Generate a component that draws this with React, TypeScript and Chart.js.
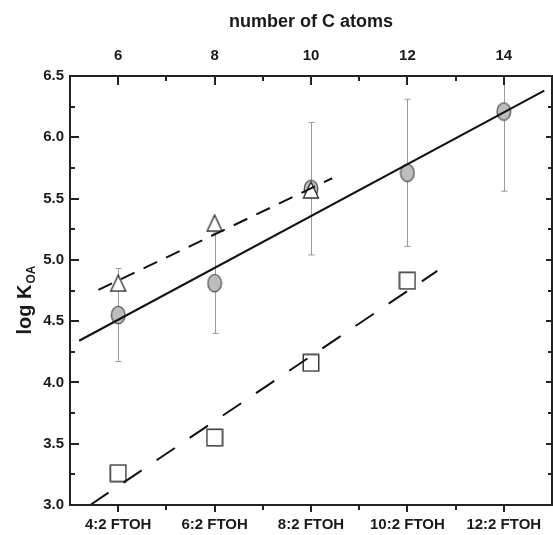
import React, { useEffect, useRef } from 'react';
import { Chart, registerables } from 'chart.js';

Chart.register(...registerables);

// ---- data ----
const categories = ['4:2 FTOH', '6:2 FTOH', '8:2 FTOH', '10:2 FTOH', '12:2 FTOH'];
const carbonAtoms = [6, 8, 10, 12, 14];
const minorCarbonTicks = [7, 9, 11, 13];
const yTicks = [3.0, 3.5, 4.0, 4.5, 5.0, 5.5, 6.0, 6.5];
const yMinorTicks = [3.25, 3.75, 4.25, 4.75, 5.25, 5.75, 6.25];

const circleLogKoa = [4.55, 4.81, 5.58, 5.71, 6.21];
const circleErr = [0.38, 0.41, 0.54, 0.6, 0.65];
const triangleCarbons = [6, 8, 10];
const triangleLogKoa = [4.81, 5.3, 5.57];
const squareCarbons = [6, 8, 10, 12];
const squareLogKoa = [3.26, 3.55, 4.16, 4.83];

const solidFitX = [5.19, 14.84];
const solidFitY = [4.34, 6.38];
const triangleFitX = [5.59, 10.44];
const triangleFitY = [4.755, 5.666];
const squareFitX = [5.42, 12.62];
const squareFitY = [3.0, 4.91];

const FONT = '"Liberation Sans", Arial, sans-serif';
const TEXT = '#1a1a1a';

function makeEllipse() {
  const c = document.createElement('canvas');
  c.width = 16; c.height = 20;
  const g = c.getContext('2d')!;
  g.beginPath();
  g.ellipse(8, 10, 6.8, 8.6, 0, 0, Math.PI * 2);
  g.fillStyle = '#bdbdbd';
  g.fill();
  g.lineWidth = 1.3;
  g.strokeStyle = '#555';
  g.stroke();
  return c;
}
function makeTriangle() {
  const c = document.createElement('canvas');
  c.width = 18; c.height = 18;
  const g = c.getContext('2d')!;
  g.beginPath();
  g.moveTo(9, 1);
  g.lineTo(1.5, 17);
  g.lineTo(16.5, 17);
  g.closePath();
  g.fillStyle = '#fff';
  g.fill();
  g.lineWidth = 1.4;
  g.strokeStyle = '#333';
  g.stroke();
  return c;
}
function makeSquare() {
  const c = document.createElement('canvas');
  c.width = 18; c.height = 19;
  const g = c.getContext('2d')!;
  g.fillStyle = '#fff';
  g.fillRect(1, 1, 16, 17);
  g.lineWidth = 1.5;
  g.strokeStyle = '#3a3a3a';
  g.strokeRect(1.25, 1.25, 15.5, 16.5);
  return c;
}

const pts = (xs: number[], ys: number[]) => xs.map((x, i) => ({ x, y: ys[i] }));

const errorBarPlugin = {
  id: 'errorBars',
  beforeDatasetsDraw(chart: any) {
    const { ctx, chartArea } = chart;
    const xs = chart.scales.x;
    const ys = chart.scales.y;
    ctx.save();
    ctx.beginPath();
    ctx.rect(chartArea.left, chartArea.top, chartArea.right - chartArea.left, chartArea.bottom - chartArea.top);
    ctx.clip();
    ctx.strokeStyle = '#9a9a9a';
    ctx.lineWidth = 1;
    carbonAtoms.forEach((c, i) => {
      const x = Math.round(xs.getPixelForValue(c)) + 0.5;
      const y1 = ys.getPixelForValue(circleLogKoa[i] + circleErr[i]);
      const y2 = ys.getPixelForValue(circleLogKoa[i] - circleErr[i]);
      ctx.beginPath();
      ctx.moveTo(x, y1); ctx.lineTo(x, y2);
      ctx.moveTo(x - 3, y1); ctx.lineTo(x + 3, y1);
      ctx.moveTo(x - 3, y2); ctx.lineTo(x + 3, y2);
      ctx.stroke();
    });
    ctx.restore();
  },
};

const framePlugin = {
  id: 'frameTicks',
  afterDatasetsDraw(chart: any) {
    const { ctx, chartArea } = chart;
    const { left, right, top, bottom } = chartArea;
    const xs = chart.scales.x;
    const ys = chart.scales.y;
    ctx.save();
    ctx.strokeStyle = '#222';
    ctx.lineWidth = 2;
    ctx.strokeRect(left, top, right - left, bottom - top);
    ctx.beginPath();
    const vt = (v: number, lenTop: number, lenBot: number) => {
      const x = Math.round(xs.getPixelForValue(v));
      ctx.moveTo(x, top); ctx.lineTo(x, top + lenTop);
      ctx.moveTo(x, bottom); ctx.lineTo(x, bottom + lenBot);
    };
    carbonAtoms.forEach((v) => vt(v, 9, 7));
    minorCarbonTicks.forEach((v) => vt(v, 5, 5));
    const ht = (v: number, lenL: number, lenR: number) => {
      const y = Math.round(ys.getPixelForValue(v));
      ctx.moveTo(left, y); ctx.lineTo(left + lenL, y);
      ctx.moveTo(right, y); ctx.lineTo(right - lenR, y);
    };
    yTicks.forEach((v) => ht(v, 9, 6));
    yMinorTicks.forEach((v) => ht(v, 5, 4));
    ctx.stroke();
    ctx.restore();
  },
  afterDraw(chart: any) {
    const { ctx } = chart;
    ctx.save();
    ctx.fillStyle = TEXT;
    ctx.textBaseline = 'alphabetic';
    ctx.textAlign = 'left';
    const main = 'log K';
    const sub = 'OA';
    ctx.font = `bold 20px ${FONT}`;
    const w1 = ctx.measureText(main).width;
    ctx.font = `bold 12px ${FONT}`;
    const w2 = ctx.measureText(sub).width;
    const total = w1 + w2 + 1;
    const cy = 300;
    ctx.translate(31, cy + total / 2);
    ctx.rotate(-Math.PI / 2);
    ctx.font = `bold 20px ${FONT}`;
    ctx.fillText(main, 0, 0);
    ctx.font = `bold 12px ${FONT}`;
    ctx.fillText(sub, w1 + 1, 4);
    ctx.restore();
  },
};

const noPadH = (h: number) => (s: any) => {
  s.height = h;
  s.paddingLeft = 0;
  s.paddingRight = 0;
};
const noPadV = (w: number) => (s: any) => {
  s.width = w;
  s.paddingTop = 0;
  s.paddingBottom = 0;
};

export default function App() {
  const ref = useRef<HTMLCanvasElement | null>(null);
  useEffect(() => {
    if (!ref.current) return;
    const ellipse = makeEllipse();
    const tri = makeTriangle();
    const sq = makeSquare();
    const chart = new Chart(ref.current, {
      type: 'scatter',
      data: {
        datasets: [
          {
            data: pts(solidFitX, solidFitY),
            showLine: true,
            borderColor: '#111',
            borderWidth: 2,
            pointRadius: 0,
            order: 0,
          },
          {
            data: pts(triangleFitX, triangleFitY),
            showLine: true,
            borderColor: '#111',
            borderWidth: 2,
            borderDash: [15, 10],
            pointRadius: 0,
            order: 0,
          },
          {
            data: pts(squareFitX, squareFitY),
            showLine: true,
            borderColor: '#111',
            borderWidth: 2,
            borderDash: [22, 18],
            pointRadius: 0,
            order: 0,
          },
          {
            data: pts(carbonAtoms, circleLogKoa),
            pointStyle: ellipse as any,
            pointRadius: 8,
            order: 3,
          },
          {
            data: pts(squareCarbons, squareLogKoa),
            pointStyle: sq as any,
            pointRadius: 8,
            order: 2,
          },
          {
            data: pts(triangleCarbons, triangleLogKoa),
            pointStyle: tri as any,
            pointRadius: 8,
            order: 1,
          },
        ],
      },
      options: {
        responsive: false,
        animation: false,
        devicePixelRatio: 1,
        layout: { autoPadding: false, padding: { left: 0, top: 0, bottom: 0, right: 1 } },
        plugins: { legend: { display: false }, tooltip: { enabled: false } },
        scales: {
          x: {
            type: 'linear',
            position: 'bottom',
            min: 5,
            max: 15,
            grid: { display: false, drawTicks: false },
            border: { display: false },
            afterBuildTicks: (s: any) => { s.ticks = carbonAtoms.map((v) => ({ value: v })); },
            afterFit: noPadH(30),
            ticks: {
              autoSkip: false,
              maxRotation: 0,
              padding: 11,
              color: TEXT,
              font: { family: FONT, size: 15, weight: 'bold' },
              callback: (v: any) => categories[carbonAtoms.indexOf(Number(v))] ?? '',
            },
          },
          x2: {
            type: 'linear',
            position: 'top',
            min: 5,
            max: 15,
            grid: { display: false, drawTicks: false },
            border: { display: false },
            afterBuildTicks: (s: any) => { s.ticks = carbonAtoms.map((v) => ({ value: v })); },
            afterFit: noPadH(76),
            title: {
              display: true,
              text: 'number of C atoms',
              color: TEXT,
              font: { family: FONT, size: 18, weight: 'bold' },
              padding: { top: 11, bottom: 0 },
            },
            ticks: {
              autoSkip: false,
              maxRotation: 0,
              padding: 11,
              color: TEXT,
              font: { family: FONT, size: 15, weight: 'bold' },
              callback: (v: any) => String(v),
            },
          },
          y: {
            type: 'linear',
            position: 'left',
            min: 3,
            max: 6.5,
            grid: { display: false, drawTicks: false },
            border: { display: false },
            afterBuildTicks: (s: any) => { s.ticks = yTicks.map((v) => ({ value: v })); },
            afterFit: noPadV(70),
            ticks: {
              padding: 6,
              color: TEXT,
              font: { family: FONT, size: 15, weight: 'bold' },
              callback: (v: any) => Number(v).toFixed(1),
            },
          },
        },
      } as any,
      plugins: [errorBarPlugin, framePlugin],
    });
    return () => chart.destroy();
  }, []);
  return (
    <div style={{ position: 'fixed', left: 0, top: 0, width: 553, height: 535, background: '#fff' }}>
      <canvas ref={ref} width={553} height={535} style={{ display: 'block' }} />
    </div>
  );
}
